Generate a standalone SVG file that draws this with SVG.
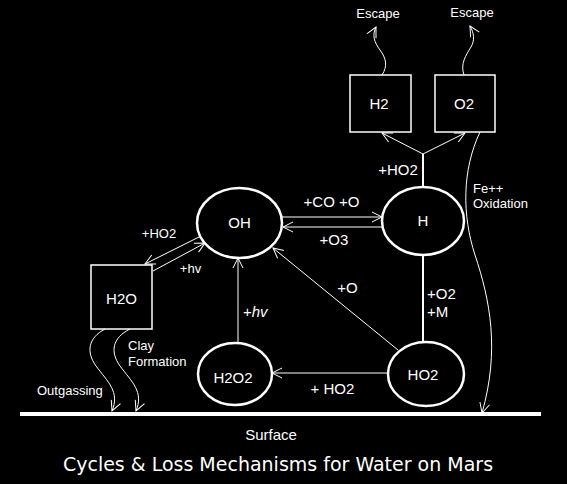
<svg xmlns="http://www.w3.org/2000/svg" width="567" height="484" viewBox="0 0 567 484">
<style>
.bg{fill:#000}
.node{fill:none;stroke:#fff;stroke-width:2.5}
.box{fill:none;stroke:#fff;stroke-width:1.5}
.c{fill:none;stroke:#fff;stroke-width:1}
.c2{fill:none;stroke:#fff;stroke-width:2}
.t{font-family:"Liberation Sans",Arial,sans-serif;font-size:15px;fill:#fff}
.s{font-family:"Liberation Sans",Arial,sans-serif;font-size:13px;fill:#fff}
.m{text-anchor:middle}
.title{font-family:"DejaVu Sans",Verdana,sans-serif;font-size:19px;fill:#fff;text-anchor:middle}
</style>
<defs>
<marker id="a" markerUnits="userSpaceOnUse" markerWidth="12" markerHeight="12" viewBox="0 0 12 12" refX="11" refY="6" orient="auto">
<path d="M1,1 L11,6 L1,11" fill="none" stroke="#fff" stroke-width="1"/>
</marker>
</defs>
<rect class="bg" x="0" y="0" width="567" height="484"/>
<g id="connectors">
<line class="c" x1="282" y1="217" x2="382" y2="217" marker-end="url(#a)"/>
<line class="c" x1="382" y1="227" x2="283" y2="227" marker-end="url(#a)"/>
<line class="c2" x1="423" y1="187" x2="423" y2="154"/>
<line class="c" x1="423" y1="154" x2="382" y2="133" marker-end="url(#a)"/>
<line class="c" x1="423" y1="154" x2="465" y2="133" marker-end="url(#a)"/>
<line class="c2" x1="423" y1="255" x2="423" y2="342"/>
<line class="c" x1="398" y1="350" x2="273" y2="248" marker-end="url(#a)"/>
<line class="c" x1="388" y1="373" x2="272" y2="373" marker-end="url(#a)"/>
<line class="c" x1="238" y1="343" x2="238" y2="258" marker-end="url(#a)"/>
<line class="c" x1="201" y1="236" x2="145" y2="264" marker-end="url(#a)"/>
<line class="c" x1="153" y1="271" x2="205" y2="243" marker-end="url(#a)"/>
<path class="c" d="M105,329 C88,338 86,352 96,366 C108,382 120,392 112,411" marker-end="url(#a)"/>
<path class="c" d="M130,329 C112,338 110,352 120,366 C132,382 144,392 136,411" marker-end="url(#a)"/>
<path class="c" d="M480,132 C462,170 462,215 475,255 C490,300 500,350 482,413" marker-end="url(#a)"/>
<path class="c" d="M382,75 C388,66 386,58 380,50 C374,42 372,35 376,27" marker-end="url(#a)"/>
<path class="c" d="M464,75 C460,64 466,55 471,47 C475,40 474,33 470,26" marker-end="url(#a)"/>
<line x1="20" y1="414" x2="541" y2="414" stroke="#fff" stroke-width="4"/>
</g>
<g id="OH"><ellipse class="node" cx="239.5" cy="223" rx="42.5" ry="35"/><text class="t m" x="239.5" y="228">OH</text></g>
<g id="H"><ellipse class="node" cx="423" cy="221" rx="41" ry="34"/><text class="t m" x="423" y="226">H</text></g>
<g id="HO2"><ellipse class="node" cx="426" cy="374" rx="38" ry="32"/><text class="t m" x="423" y="380">HO2</text></g>
<g id="H2O2"><ellipse class="node" cx="235" cy="374" rx="37" ry="31"/><text class="t m" x="233" y="383">H2O2</text></g>
<g id="H2"><rect class="box" x="350" y="75" width="61" height="57"/><text class="t m" x="379" y="109">H2</text></g>
<g id="O2"><rect class="box" x="435" y="75" width="60" height="57"/><text class="t m" x="464" y="109">O2</text></g>
<g id="H2O"><rect class="box" x="91" y="265" width="61" height="64"/><text class="t m" x="121.5" y="304">H2O</text></g>
<g id="labels">
<text class="s m" x="378" y="18">Escape</text>
<text class="s m" x="472" y="17">Escape</text>
<text class="t m" x="398" y="175">+HO2</text>
<text class="t m" x="331.5" y="207">+CO +O</text>
<text class="t m" x="334" y="245">+O3</text>
<text class="s m" x="159" y="238">+HO2</text>
<text class="s m" x="190.5" y="273">+hv</text>
<text class="s" x="128" y="350">Clay</text>
<text class="s" x="128" y="366">Formation</text>
<text class="s" x="37" y="395">Outgassing</text>
<text class="t" x="243" y="317">+<tspan font-style="italic">hv</tspan></text>
<text class="t m" x="347.5" y="293">+O</text>
<text class="t" x="427" y="299">+O2</text>
<text class="t" x="427" y="317">+M</text>
<text class="t m" x="332.5" y="394">+ HO2</text>
<text class="s" x="473" y="193">Fe++</text>
<text class="s" x="473" y="208">Oxidation</text>
<text class="t m" x="271" y="440">Surface</text>
<text class="title" x="278" y="471">Cycles &amp; Loss Mechanisms for Water on Mars</text>
</g>
</svg>
